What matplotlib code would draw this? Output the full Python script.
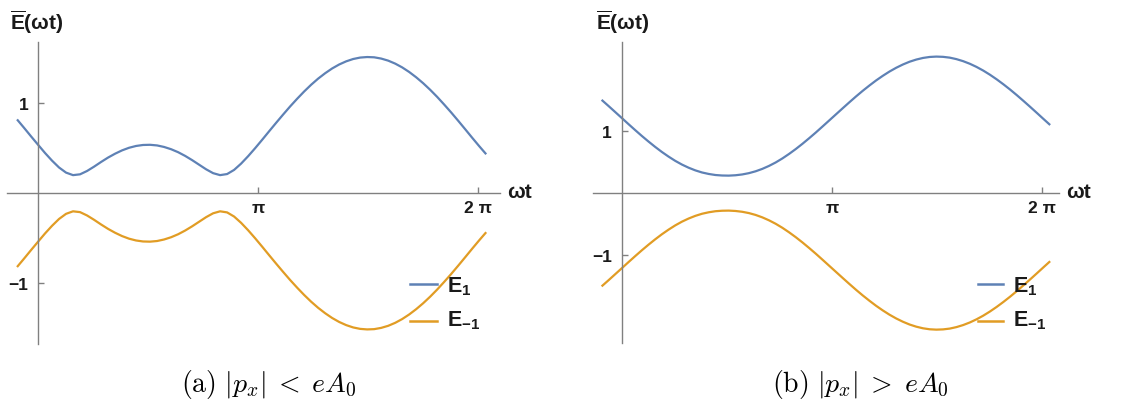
import matplotlib
matplotlib.use("Agg")
import matplotlib.pyplot as plt
from matplotlib.lines import Line2D
import numpy as np

# ---- data ----
wt = [-0.3, -0.2, -0.1, 0.0, 0.1, 0.2, 0.3, 0.4, 0.5, 0.6, 0.7, 0.8, 0.9, 1.0,
      1.1, 1.2, 1.3, 1.4, 1.5, 1.6, 1.7, 1.8, 1.9, 2.0, 2.1, 2.2, 2.3, 2.4,
      2.5, 2.6, 2.7, 2.8, 2.9, 3.0, 3.1, 3.2, 3.3, 3.4, 3.5, 3.6, 3.7, 3.8,
      3.9, 4.0, 4.1, 4.2, 4.3, 4.4, 4.5, 4.6, 4.7, 4.8, 4.9, 5.0, 5.1, 5.2,
      5.3, 5.4, 5.5, 5.6, 5.7, 5.8, 5.9, 6.0, 6.1, 6.2, 6.3, 6.4]

E1_a = [0.820, 0.727, 0.632, 0.539, 0.447, 0.362, 0.286, 0.229, 0.201, 0.210,
        0.247, 0.295, 0.347, 0.396, 0.439, 0.476, 0.505, 0.525, 0.536, 0.538,
        0.531, 0.514, 0.489, 0.456, 0.415, 0.368, 0.317, 0.266, 0.223, 0.201,
        0.213, 0.259, 0.329, 0.411, 0.500, 0.593, 0.688, 0.782, 0.874, 0.964,
        1.049, 1.130, 1.205, 1.273, 1.333, 1.386, 1.430, 1.465, 1.491, 1.507,
        1.513, 1.510, 1.496, 1.473, 1.440, 1.398, 1.347, 1.288, 1.222, 1.149,
        1.070, 0.985, 0.897, 0.805, 0.711, 0.616, 0.523, 0.433]
Em1_a = [-v for v in E1_a]

E1_b = [1.509, 1.413, 1.315, 1.217, 1.118, 1.021, 0.926, 0.835, 0.748, 0.666,
        0.591, 0.522, 0.462, 0.411, 0.368, 0.334, 0.310, 0.293, 0.285, 0.283,
        0.289, 0.302, 0.323, 0.353, 0.392, 0.440, 0.496, 0.561, 0.634, 0.713,
        0.798, 0.888, 0.981, 1.078, 1.176, 1.274, 1.372, 1.469, 1.564, 1.655,
        1.741, 1.823, 1.898, 1.967, 2.028, 2.081, 2.126, 2.161, 2.187, 2.203,
        2.209, 2.205, 2.192, 2.168, 2.135, 2.093, 2.042, 1.983, 1.916, 1.842,
        1.762, 1.677, 1.587, 1.493, 1.397, 1.299, 1.200, 1.102]
Em1_b = [-v for v in E1_b]

series_labels = [r"$\mathbf{E}_{\mathbf{1}}$", r"$\mathbf{E}_{\mathbf{{-}1}}$"]
xtick_labels = ["\u03c0", "2 \u03c0"]
ytick_labels = ["\u22121", "1"]
ylabel_text = r"$\overline{\mathbf{E}}$" + "(\u03c9t)"
xlabel_text = "\u03c9t"
captions = [r"$\mathrm{(a)}\ |p_x|\;<\;eA_0$", r"$\mathrm{(b)}\ |p_x|\;>\;eA_0$"]

# ---- styling ----
plt.rcParams["mathtext.fontset"] = "custom"
plt.rcParams["mathtext.bf"] = "Liberation Sans:bold"
plt.rcParams["mathtext.rm"] = "Liberation Sans"
plt.rcParams["mathtext.it"] = "Liberation Sans:italic"

W, H = 1127, 406
BLUE = "#5E81B5"
ORANGE = "#E19C24"
AXC = "#808080"
SANS = ["Liberation Sans", "DejaVu Sans"]
TXT = "#1a1a1a"

fig = plt.figure(figsize=(W / 100, H / 100), dpi=100)
fig.patch.set_facecolor("white")


def fx(x):
    return x / W


def fy(y):
    return 1 - y / H


def make_axes(rect_px, xlim, ylim, e1, em1, legend_x):
    x0, y0, x1, y1 = rect_px
    ax = fig.add_axes([fx(x0), fy(y1), (x1 - x0) / W, (y1 - y0) / H])
    ax.set_xlim(*xlim)
    ax.set_ylim(*ylim)
    ax.plot(wt, e1, color=BLUE, lw=1.6, solid_capstyle="butt")
    ax.plot(wt, em1, color=ORANGE, lw=1.6, solid_capstyle="butt")
    for s in ("top", "right"):
        ax.spines[s].set_visible(False)
    ax.spines["left"].set_position(("data", 0))
    ax.spines["bottom"].set_position(("data", 0))
    for s in ("left", "bottom"):
        ax.spines[s].set_color(AXC)
        ax.spines[s].set_linewidth(1.0)
    ax.set_xticks([np.pi, 2 * np.pi])
    ax.set_xticklabels(xtick_labels)
    ax.set_yticks([-1, 1])
    ax.set_yticklabels(ytick_labels)
    ax.tick_params(direction="in", length=4, width=1.0, color=AXC,
                   labelsize=12.5)
    ax.tick_params(axis="y", pad=7)
    ax.tick_params(axis="x", pad=5)
    for lab in ax.get_xticklabels() + ax.get_yticklabels():
        lab.set_fontfamily(SANS)
        lab.set_fontweight("bold")
        lab.set_color(TXT)
    ax.patch.set_alpha(0)

    # axis titles
    fig.text(fx(x0 + 3), fy(22), ylabel_text,
             fontsize=15, fontweight="bold", family=SANS, ha="left",
             va="center", color=TXT)
    fig.text(fx(x1 + 7), fy(193), xlabel_text, fontsize=15,
             fontweight="bold", family=SANS, ha="left", va="center",
             color=TXT)

    # legend
    lx0, lx1 = legend_x
    for yy, yb, col, lab in ((285, 292, BLUE, series_labels[0]),
                             (322, 326, ORANGE, series_labels[1])):
        fig.add_artist(Line2D([fx(lx0), fx(lx1)], [fy(yy), fy(yy)],
                              color=col, lw=1.8, transform=fig.transFigure))
        fig.text(fx(lx1 + 10), fy(yb), lab, fontsize=15.5,
                 family=SANS, ha="left", va="baseline", color=TXT)
    return ax


make_axes((7, 43, 500, 345), (-0.443, 6.597), (-1.675, 1.68),
          E1_a, Em1_a, (410, 437))
make_axes((592.7, 42.7, 1059, 344.3), (-0.433, 6.532), (-2.43, 2.45),
          E1_b, Em1_b, (978, 1003))

fig.text(fx(269), fy(385), captions[0], fontsize=20,
         math_fontfamily="cm", ha="center", va="center", color="black")
fig.text(fx(860), fy(385), captions[1], fontsize=20,
         math_fontfamily="cm", ha="center", va="center", color="black")

fig.savefig("out.png", dpi=100, facecolor="white")
